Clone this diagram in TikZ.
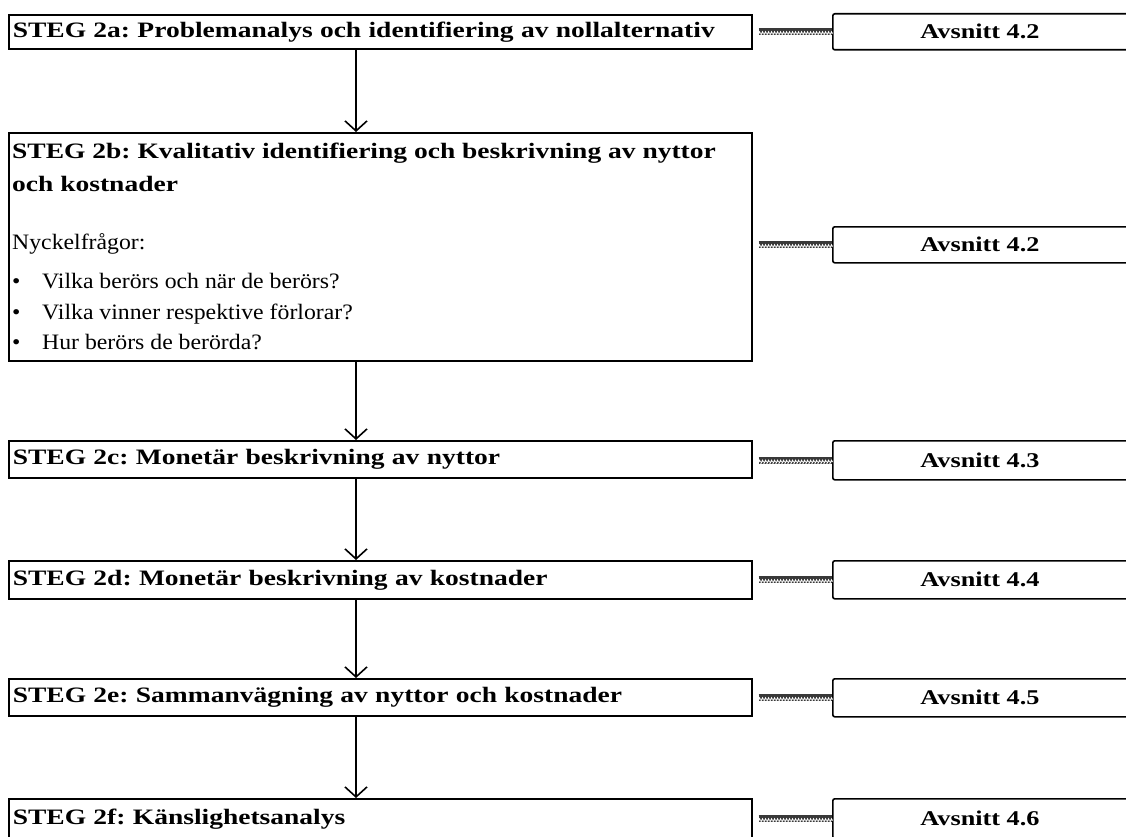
\documentclass[tikz,border=0pt]{standalone}
\usepackage{fontspec}
\setmainfont{Liberation Serif}[FakeStretch=1.25]
\newfontfamily\regfam{Liberation Serif}[FakeStretch=1.08]
\usetikzlibrary{arrows.meta,decorations.markings,calc}
\newcommand\hfnt{\fontsize{22}{26}\selectfont\bfseries\frenchspacing}
\newcommand\rfnt{\regfam\fontsize{22}{26}\selectfont\frenchspacing}
\newcommand\afnt{\fontsize{21}{25}\selectfont\bfseries\frenchspacing}
\begin{document}
\begin{tikzpicture}[x=1pt,y=-1pt,
  lbox/.style={draw, line width=1.6pt, anchor=north west, minimum width=743pt,
    text width=735pt, inner xsep=4pt, inner ysep=0pt, align=left, font=\hfnt},
  rbox/.style={draw, line width=1.6pt, rounded corners=2pt, anchor=north west,
    minimum width=310pt, text width=300pt, inner xsep=5pt, inner ysep=0pt, font=\afnt},
  rtext/.style={font=\afnt, anchor=center},
  downarrow/.style={line width=1.6pt, -{Straight Barb[length=10pt,width=22pt]}},
  stripearrow/.style={draw=gray!45!black, line width=7pt, shorten <=6pt,
    postaction={decorate, decoration={markings,
      mark=between positions 0.05 and 1 step 3pt with {\draw[white, line width=0.9pt] (-1.8pt,3.6pt) -- (0pt,0pt) -- (-1.8pt,-3.6pt);}}}},
  line/.style={anchor=base west, inner sep=0pt}
]
\useasboundingbox (0,0) rectangle (1126,837);
\clip (0,0) rectangle (1126,837);

% left boxes
\node[lbox, minimum height=34pt] (a) at (8,14) {STEG 2a: Problemanalys och identifiering av nollalternativ};
\node[draw, line width=1.6pt, anchor=north west, minimum width=743pt, minimum height=228pt, inner sep=0pt] (b) at (8,132) {};
\node[lbox, minimum height=37pt] (c) at (8,440) {STEG 2c: Monetär beskrivning av nyttor};
\node[lbox, minimum height=38pt] (d) at (8,560) {STEG 2d: Monetär beskrivning av kostnader};
\node[lbox, minimum height=37pt] (e) at (8,678) {STEG 2e: Sammanvägning av nyttor och kostnader};
\node[lbox, minimum height=40pt] (f) at (8,798) {STEG 2f: Känslighetsanalys};

% box b text
\node[line, font=\hfnt] (b1) at (12,159) {STEG 2b: Kvalitativ identifiering och beskrivning av nyttor};
\node[line, font=\hfnt] (b2) at (12,192) {och kostnader};
\node[line, font=\rfnt] (b3) at (12,249) {Nyckelfrågor:};
\node[line, font=\rfnt] (p1) at (12,288) {•};
\node[line, font=\rfnt] (q1) at (42,288) {Vilka berörs och när de berörs?};
\node[line, font=\rfnt] (p2) at (12,319) {•};
\node[line, font=\rfnt] (q2) at (42,319) {Vilka vinner respektive förlorar?};
\node[line, font=\rfnt] (p3) at (12,349) {•};
\node[line, font=\rfnt] (q3) at (42,349) {Hur berörs de berörda?};

% right boxes
\node[rbox, minimum height=36pt] (ra) at (832,13) {};
\node[rbox, minimum height=36pt] (rb) at (832,226) {};
\node[rbox, minimum height=39pt] (rc) at (832,440) {};
\node[rbox, minimum height=38pt] (rd) at (832,560) {};
\node[rbox, minimum height=38pt] (re) at (832,678) {};
\node[rbox, minimum height=40pt] (rf) at (832,798) {};
\node[rtext] (ta) at (980,0 |- ra.center) {Avsnitt 4.2};
\node[rtext] (tb) at (980,0 |- rb.center) {Avsnitt 4.2};
\node[rtext] (tc) at (980,0 |- rc.center) {Avsnitt 4.3};
\node[rtext] (td) at (980,0 |- rd.center) {Avsnitt 4.4};
\node[rtext] (te) at (980,0 |- re.center) {Avsnitt 4.5};
\node[rtext] (tf) at (980,0 |- rf.center) {Avsnitt 4.6};

% striped arrows
\path[stripearrow] (a.east |- ra.west) -- (ra.west);
\path[stripearrow] (b.east |- rb.west) -- (rb.west);
\path[stripearrow] (c.east |- rc.west) -- (rc.west);
\path[stripearrow] (d.east |- rd.west) -- (rd.west);
\path[stripearrow] (e.east |- re.west) -- (re.west);
\path[stripearrow] (f.east |- rf.west) -- (rf.west);

% down arrows
\draw[downarrow] ($(a.south west)+(348,0)$) -- ($(b.north west)+(348,0)$);
\draw[downarrow] ($(b.south west)+(348,0)$) -- ($(c.north west)+(348,0)$);
\draw[downarrow] ($(c.south west)+(348,0)$) -- ($(d.north west)+(348,0)$);
\draw[downarrow] ($(d.south west)+(348,0)$) -- ($(e.north west)+(348,0)$);
\draw[downarrow] ($(e.south west)+(348,0)$) -- ($(f.north west)+(348,0)$);
\end{tikzpicture}
\end{document}
